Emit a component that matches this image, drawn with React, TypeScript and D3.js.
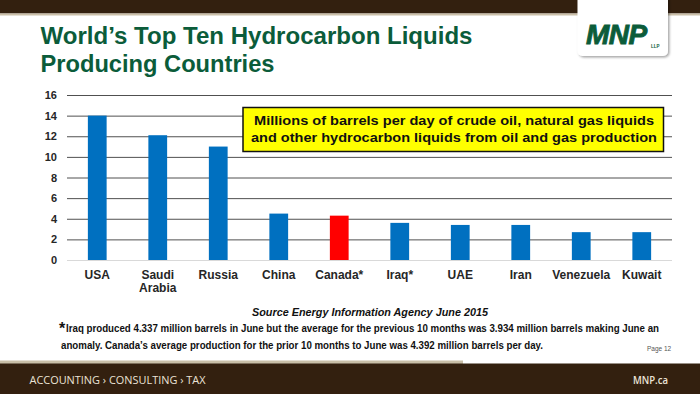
import * as React from "react"
import * as d3 from "d3"

const countries = [
  "USA",
  "Saudi Arabia",
  "Russia",
  "China",
  "Canada*",
  "Iraq*",
  "UAE",
  "Iran",
  "Venezuela",
  "Kuwait",
]
const production = [14.0, 12.1, 11.0, 4.5, 4.3, 3.6, 3.4, 3.4, 2.7, 2.7]
const highlighted = "Canada*"
const yTicks = [0, 2, 4, 6, 8, 10, 12, 14, 16]

const titleLines = ["World\u2019s Top Ten Hydrocarbon Liquids", "Producing Countries"]
const boxLines = [
  "Millions of barrels per day of crude oil, natural gas liquids",
  "and other hydrocarbon liquids from oil and gas production",
]
const sourceText = "Source Energy Information Agency June 2015"
const noteLines = [
  "Iraq produced 4.337 million  barrels in June but the average for the previous 10 months was  3.934 million  barrels making June an",
  "anomaly. Canada\u2019s average production  for the prior  10 months to June was  4.392 million  barrels per day.",
]

const W = 700
const H = 394
const FONT = "'Liberation Sans', Arial, sans-serif"
const DARK = "#33200f"
const GREEN = "#0b5c3a"

function render(svgRef: React.RefObject<SVGSVGElement>) {
  const svg = d3.select(svgRef.current)
  svg.selectAll("*").remove()

  const margin = { top: 95, right: 28, bottom: 134, left: 67 }
  const w = W - margin.left - margin.right
  const h = H - margin.top - margin.bottom

  // slide frame
  svg.append("rect").attr("width", W).attr("height", H).attr("fill", "#fff")
  svg.append("rect").attr("width", W).attr("height", 13.5).attr("fill", DARK)
  svg.append("rect").attr("y", 13.5).attr("width", W).attr("height", 2).attr("fill", "#cbc0a9")

  const defs = svg.append("defs")
  defs
    .append("filter")
    .attr("id", "logoShadow")
    .attr("x", "-20%")
    .attr("y", "-20%")
    .attr("width", "140%")
    .attr("height", "140%")
    .append("feDropShadow")
    .attr("dx", 1.5)
    .attr("dy", 1.5)
    .attr("stdDeviation", 1.2)
    .attr("flood-color", "#000")
    .attr("flood-opacity", 0.35)

  svg
    .append("rect")
    .attr("x", 577.5)
    .attr("y", -6)
    .attr("width", 90.5)
    .attr("height", 62)
    .attr("rx", 5)
    .attr("fill", "#fff")
    .attr("filter", "url(#logoShadow)")
  svg
    .append("text")
    .attr("x", 586)
    .attr("y", 43.5)
    .attr("font-family", FONT)
    .attr("font-weight", "bold")
    .attr("font-style", "italic")
    .attr("font-size", 28)
    .attr("letter-spacing", -0.5)
    .attr("fill", GREEN)
    .attr("stroke", GREEN)
    .attr("stroke-width", 0.9)
    .text("MNP")
  svg
    .append("text")
    .attr("x", 651)
    .attr("y", 48)
    .attr("font-family", FONT)
    .attr("font-weight", "bold")
    .attr("font-size", 4.5)
    .attr("fill", GREEN)
    .text("LLP")

  svg
    .selectAll(".title")
    .data(titleLines)
    .join("text")
    .attr("class", "title")
    .attr("x", 40.5)
    .attr("y", (_d, i) => 43.5 + i * 28.5)
    .attr("font-family", FONT)
    .attr("font-weight", "bold")
    .attr("font-size", 24)
    .attr("textLength", (_d, i) => (i === 0 ? 432 : 234))
    .attr("lengthAdjust", "spacingAndGlyphs")
    .attr("fill", GREEN)
    .text((d) => d)

  // chart
  const g = svg.append("g").attr("transform", `translate(${margin.left},${margin.top})`)

  const x = d3
    .scaleBand<string>()
    .domain(countries)
    .range([0, w])
    .paddingInner(0.69)
    .paddingOuter(0.345)

  const y = d3.scaleLinear().domain([0, 16]).range([h, 0])

  const axis = g
    .append("g")
    .call(
      d3
        .axisLeft(y)
        .tickValues(yTicks)
        .tickSize(-w)
        .tickPadding(10)
        .tickFormat(d3.format("d"))
    )
  axis.select(".domain").remove()
  axis
    .selectAll(".tick line")
    .attr("stroke", (d) => ((d as number) === 0 ? "#d9d9d9" : "#505050"))
    .attr("stroke-width", 1)
  axis
    .selectAll(".tick text")
    .attr("font-family", FONT)
    .attr("font-weight", "bold")
    .attr("font-size", 11)
    .attr("fill", "#262626")

  g.selectAll(".bar")
    .data(countries)
    .join("rect")
    .attr("class", "bar")
    .attr("x", (d) => x(d)!)
    .attr("y", (_d, i) => y(production[i]))
    .attr("width", x.bandwidth())
    .attr("height", (_d, i) => h - y(production[i]))
    .attr("fill", (d) => (d === highlighted ? "#ff0000" : "#0070c0"))

  const labels = g
    .selectAll(".xlabel")
    .data(countries)
    .join("text")
    .attr("class", "xlabel")
    .attr("x", (d) => x(d)! + x.bandwidth() / 2)
    .attr("y", h + 19)
    .attr("text-anchor", "middle")
    .attr("font-family", FONT)
    .attr("font-weight", "bold")
    .attr("font-size", 12)
    .attr("fill", "#262626")
  labels
    .selectAll("tspan")
    .data((d) => d.split(" "))
    .join("tspan")
    .attr("x", function () {
      return (this.parentNode as SVGTextElement).getAttribute("x")
    })
    .attr("dy", (_d, i) => (i === 0 ? 0 : 12.5))
    .text((d) => d)

  // callout box
  svg
    .append("rect")
    .attr("x", 243)
    .attr("y", 107.5)
    .attr("width", 420.5)
    .attr("height", 44)
    .attr("fill", "#ffff00")
    .attr("stroke", "#111")
    .attr("stroke-width", 1.5)
  svg
    .selectAll(".boxtext")
    .data(boxLines)
    .join("text")
    .attr("class", "boxtext")
    .attr("x", 454)
    .attr("y", (_d, i) => 124.5 + i * 17.3)
    .attr("text-anchor", "middle")
    .attr("font-family", FONT)
    .attr("font-weight", "bold")
    .attr("font-size", 13.5)
    .attr("textLength", (_d, i) => (i === 0 ? 400 : 406))
    .attr("lengthAdjust", "spacingAndGlyphs")
    .attr("fill", "#111")
    .text((d) => d)

  // source + footnote
  svg
    .append("text")
    .attr("x", 370)
    .attr("y", 315.5)
    .attr("text-anchor", "middle")
    .attr("font-family", FONT)
    .attr("font-weight", "bold")
    .attr("font-style", "italic")
    .attr("font-size", 11.5)
    .attr("textLength", 236)
    .attr("lengthAdjust", "spacingAndGlyphs")
    .attr("fill", "#111")
    .text(sourceText)

  svg
    .append("text")
    .attr("x", 59)
    .attr("y", 334)
    .attr("font-family", FONT)
    .attr("font-weight", "bold")
    .attr("font-size", 16)
    .attr("fill", "#111")
    .text("*")
  svg
    .selectAll(".note")
    .data(noteLines)
    .join("text")
    .attr("class", "note")
    .attr("x", (_d, i) => (i === 0 ? 66 : 61))
    .attr("y", (_d, i) => 332 + i * 16.5)
    .attr("font-family", FONT)
    .attr("font-weight", "bold")
    .attr("font-size", 10)
    .attr("textLength", (_d, i) => (i === 0 ? 593 : 482))
    .attr("lengthAdjust", "spacingAndGlyphs")
    .attr("fill", "#111")
    .text((d) => d)

  svg
    .append("text")
    .attr("x", 647)
    .attr("y", 350.5)
    .attr("font-family", FONT)
    .attr("font-size", 6.5)
    .attr("fill", "#555")
    .text("Page 12")

  // footer
  svg.append("rect").attr("y", 360.5).attr("width", 463).attr("height", 4).attr("fill", "#c9bfa8")
  svg.append("rect").attr("y", 363.5).attr("width", W).attr("height", H - 363.5).attr("fill", DARK)
  svg
    .append("text")
    .attr("x", 29.5)
    .attr("y", 383.5)
    .attr("font-family", "'Open Sans', sans-serif")
    .attr("font-size", 10.5)
    .attr("textLength", 176)
    .attr("lengthAdjust", "spacingAndGlyphs")
    .attr("fill", "#ebe3d6")
    .text("ACCOUNTING \u203a CONSULTING \u203a TAX")
  svg
    .append("text")
    .attr("x", 633)
    .attr("y", 383.5)
    .attr("font-family", "'Open Sans', sans-serif")
    .attr("font-weight", 600)
    .attr("font-size", 11)
    .attr("textLength", 35)
    .attr("lengthAdjust", "spacingAndGlyphs")
    .attr("fill", "#ebe3d6")
    .text("MNP.ca")
}

export default function App(): React.JSX.Element {
  const svg = React.useRef<SVGSVGElement>(null)

  React.useEffect(() => {
    render(svg)
  }, [])

  return (
    <svg
      ref={svg}
      width={W}
      height={H}
      style={{ position: "absolute", left: 0, top: 0, display: "block" }}
    />
  )
}
